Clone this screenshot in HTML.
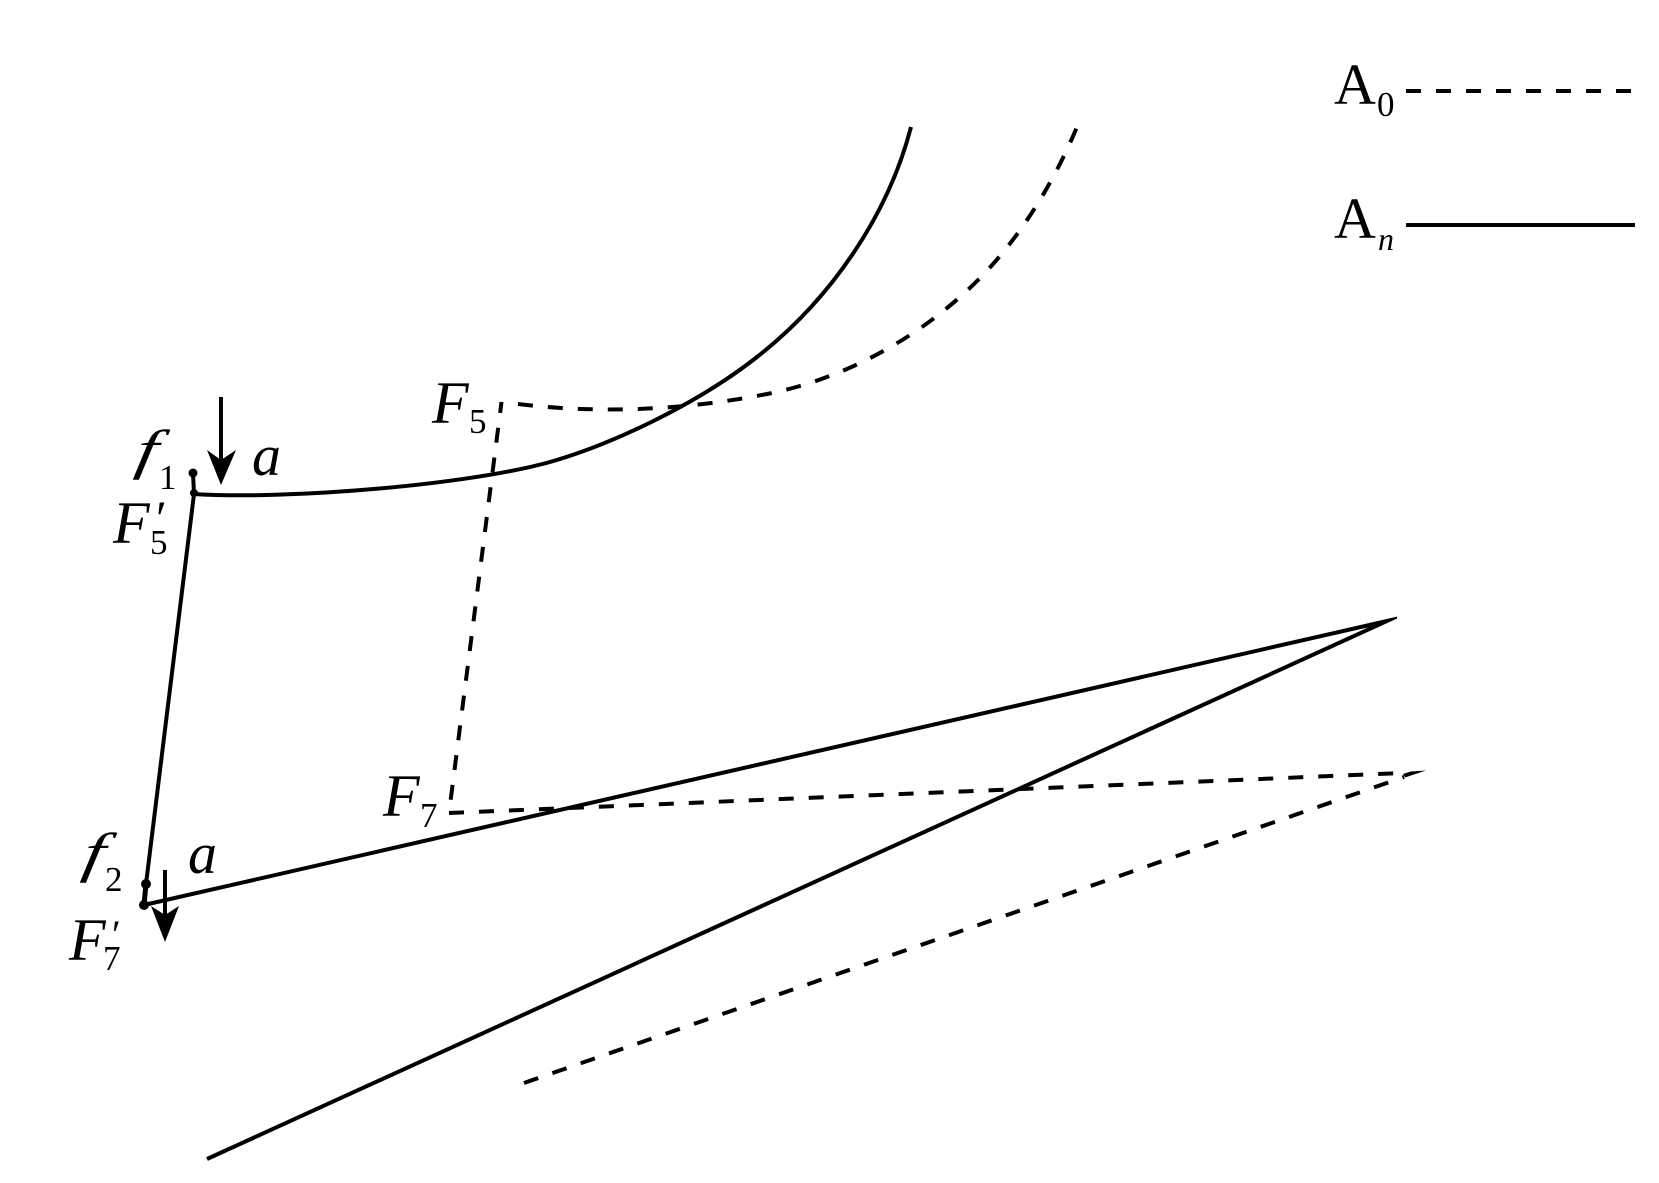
<!DOCTYPE html>
<html>
<head>
<meta charset="utf-8">
<style>
html,body{margin:0;padding:0;background:#fff;width:1659px;height:1183px;overflow:hidden}
svg{display:block}
text{font-family:"Liberation Serif",serif;fill:#000}
.i{font-style:italic}
.l{font-size:58px}
.f{font-size:60px}
.s{font-size:35px}
.n{font-size:32px}
</style>
</head>
<body>
<svg width="1659" height="1183" viewBox="0 0 1659 1183" xmlns="http://www.w3.org/2000/svg">
<g fill="none" stroke="#000" stroke-width="4">
  <path d="M194,494 C290,500 470,484.4 550,462 C610,445 696,405 757,357 C830,300 888,216 911,127"/>
  <path d="M194,494 L146,884"/>
  <line x1="146" y1="884" x2="144" y2="905" stroke-width="5"/>
  <polyline points="144,905 1387,621 207,1159" stroke-miterlimit="60"/>
  <line x1="1406" y1="225" x2="1635" y2="225"/>
  <line x1="193" y1="473" x2="194" y2="494"/>
  <line x1="221" y1="397" x2="221" y2="460"/>
  <line x1="165" y1="870" x2="165" y2="915"/>
  <g stroke-dasharray="15 15">
    <path d="M518,404 C600,414 686,410 767,394 C844,379 919,338 975,283 C1019,240 1053,184 1077,127"/>
    <line x1="501.5" y1="402" x2="449" y2="813" stroke-dashoffset="4"/>
    <line x1="449" y1="813" x2="1403" y2="773"/>
    <line x1="524" y1="1083" x2="1404" y2="777"/>
    <line x1="1406" y1="91" x2="1635" y2="91"/>
  </g>
</g>
<rect x="1397" y="600" width="30" height="30" fill="#fff"/>
<polygon points="1403,774 1411,771.5 1426,770.5 1405,777.5" fill="#000"/>
<circle cx="193" cy="473" r="4.5" fill="#000"/>
<circle cx="194" cy="493" r="4" fill="#000"/>
<circle cx="146" cy="884" r="5" fill="#000"/>
<circle cx="144" cy="905" r="5" fill="#000"/>
<polygon points="207,450 221,460 236,450 221,485" fill="#000"/>
<polygon points="151,906 165,915 179,906 165,942" fill="#000"/>

<text class="i f" x="432" y="423">F</text><text class="s" x="469" y="433">5</text>
<text class="i l" transform="translate(134,468) skewX(-10) scale(1.3,0.95)">f</text><text class="s" x="159" y="489">1</text>
<text class="i l" x="252" y="475">a</text>
<text class="i f" x="113" y="543">F</text><text class="s" x="150" y="554">5</text><text class="l" style="font-size:50px" x="156" y="535">′</text>
<text class="i f" x="383" y="816">F</text><text class="s" x="420" y="827">7</text>
<text class="i l" transform="translate(81,871) skewX(-10) scale(1.3,0.95)">f</text><text class="s" x="105" y="891">2</text>
<text class="i l" x="188" y="873">a</text>
<text class="i f" x="69" y="960">F</text><text class="s" x="103" y="970">7</text><text class="l" style="font-size:40px" x="112" y="948">′</text>
<text class="l" x="1334" y="104">A</text><text class="s" x="1377" y="116">0</text>
<text class="l" x="1334" y="238">A</text><text class="i n" x="1378" y="250">n</text>
</svg>
</body>
</html>
